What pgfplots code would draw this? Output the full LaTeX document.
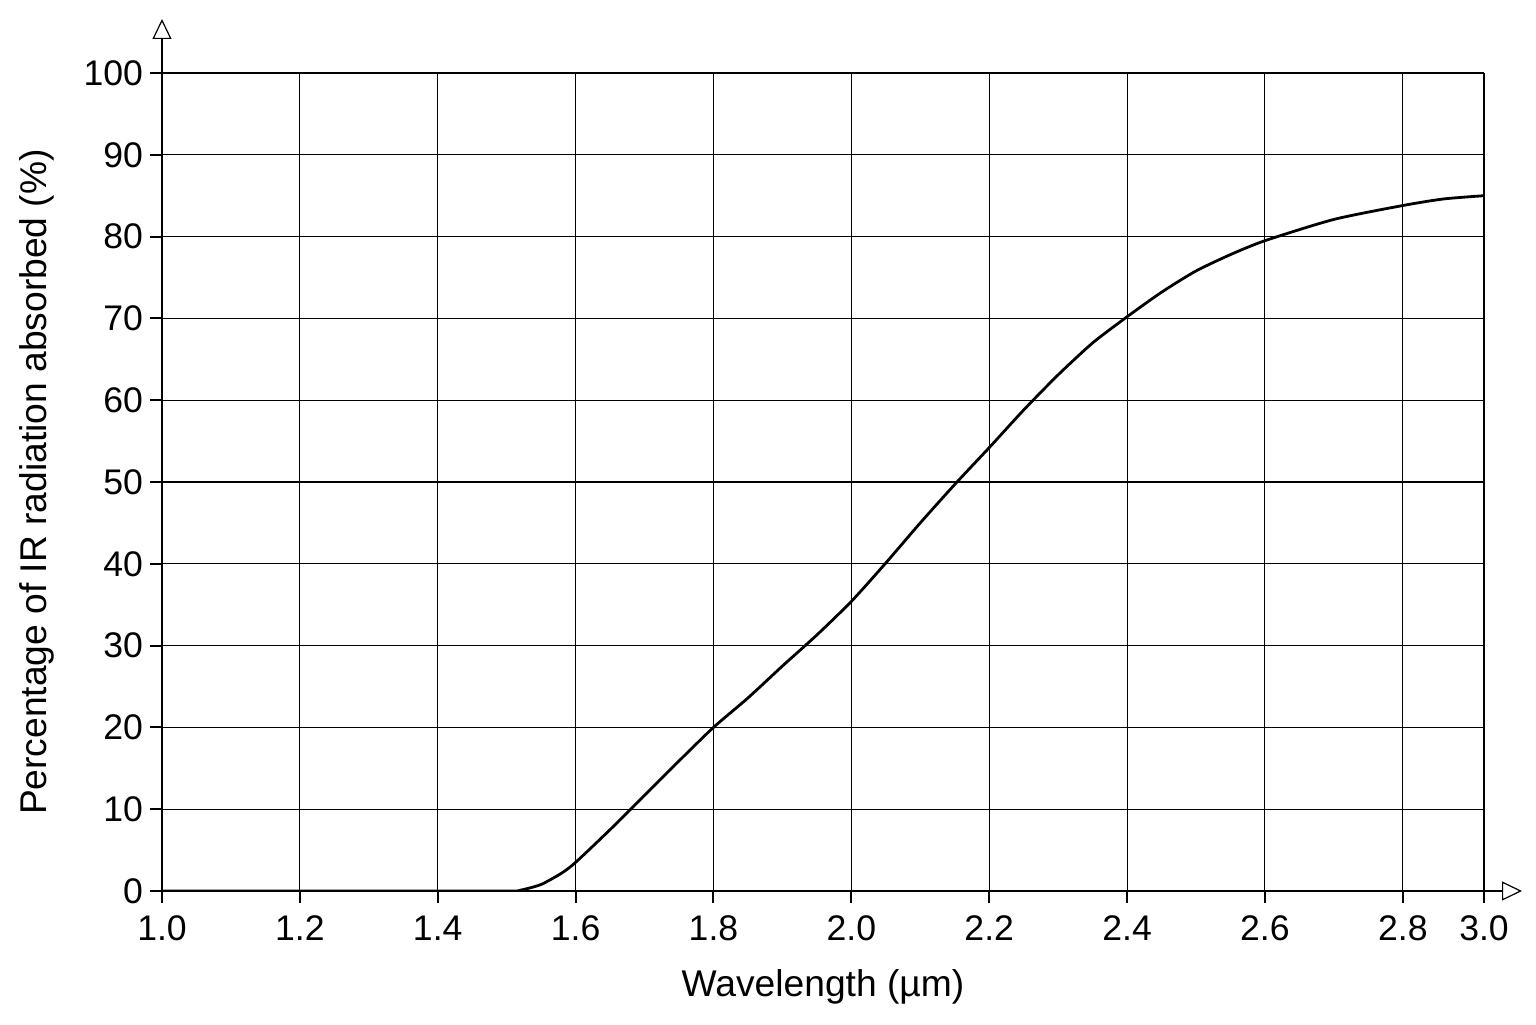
\documentclass[border=0pt]{standalone}
\usepackage{fontspec}
\setmainfont{Liberation Sans}
\usepackage{pgfplots}
\pgfplotsset{compat=1.18}
\usetikzlibrary{arrows.meta}

\begin{document}
\begin{tikzpicture}
  \begin{axis}[
      name=ax,
      scale only axis,
      width=661pt,
      height=409pt,
      xmin=1.0, xmax=3.0,
      ymin=0, ymax=100,
      % the last column of the printed grid is narrower
      x coord trafo/.code={\pgfmathparse{#1>2.8 ? 2.8+(#1-2.8)*0.589 : #1}},
      xtick={1.0,1.2,1.4,1.6,1.8,2.0,2.2,2.4,2.6,2.8,3.0},
      xticklabels={1.0,1.2,1.4,1.6,1.8,2.0,2.2,2.4,2.6,2.8,3.0},
      ytick={0,10,20,30,40,50,60,70,80,90,100},
      axis x line=bottom,
      axis y line=left,
      x axis line style={line width=1.2pt, shorten >=-19pt, -{Triangle[open,length=10pt,width=9.5pt,line width=0.6pt]}},
      y axis line style={line width=1.2pt, shorten >=-27pt, -{Triangle[open,length=10pt,width=9.5pt,line width=0.6pt]}},
      grid=major,
      major grid style={black, line width=0.55pt},
      tick align=outside,
      major tick length=6pt,
      tick style={black, line width=1pt},
      /pgf/number format/assume math mode=true,
      ticklabel style={font=\fontsize{17.8}{21}\selectfont},
      xticklabel style={yshift=-3pt},
      label style={font=\fontsize{18.6}{22}\selectfont},
      xlabel={Wavelength (µm)},
      xlabel style={yshift=-7.5pt},
      ylabel={Percentage of IR radiation absorbed (\%)},
      ylabel style={yshift=8pt},
    ]
    \addplot[black, line width=1.4pt, smooth, tension=0.4] coordinates {
      (1.0,0) (1.3,0) (1.5,0) (1.52,0.1) (1.55,0.8) (1.58,2.2) (1.6,3.5)
      (1.65,7.5) (1.7,11.7) (1.75,15.9) (1.8,20) (1.85,23.6) (1.9,27.5)
      (1.95,31.3) (2.0,35.4) (2.05,40.1) (2.1,45) (2.15,49.7) (2.2,54.2)
      (2.25,58.8) (2.3,63.1) (2.35,67) (2.4,70.2) (2.45,73.2) (2.5,75.8)
      (2.55,77.8) (2.6,79.5) (2.7,82.1) (2.8,83.8) (2.9,84.6) (3.0,85)
    };
  \end{axis}
  \pgfresetboundingbox
  \path ([xshift=-81pt,yshift=-66.5pt]ax.south west) rectangle ([xshift=26pt,yshift=36.5pt]ax.north east);
\end{tikzpicture}
\end{document}
